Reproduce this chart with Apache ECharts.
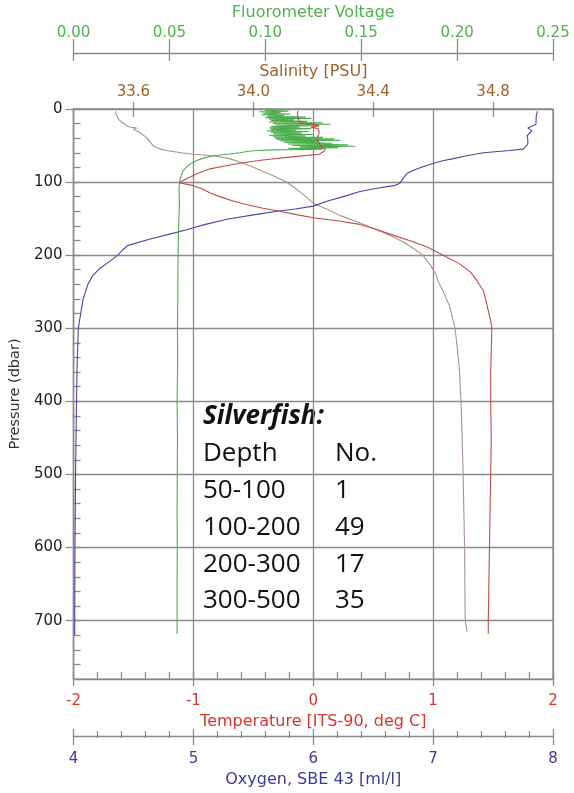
<!DOCTYPE html>
<html><head><meta charset="utf-8">
<script src="https://cdn.jsdelivr.net/npm/echarts@6/dist/echarts.min.js"></script>
<style>html,body{margin:0;padding:0;background:#fff}#c{width:574px;height:793px}</style>
</head><body><div id="c"></div>
<script>
// ---- Data ----
const tempP = [3,10,17,19,21,23,25,27,32,37,42,46,51,55,58,62,66,70,74,78,82,88,95,101,103,105,110,115,120,126,131,136,140,145,149,153,158,165,173,181,189,200,212,223,236,249,262,276,290,300,330,360,400,450,500,550,600,650,700,718];
const tempV = [-0.13,-0.13,-0.12,-0.10,0.0,0.05,-0.02,0.04,0.05,0.04,0.03,0.05,0.06,0.10,0.09,0.05,-0.2,-0.42,-0.6,-0.74,-0.86,-0.96,-1.05,-1.12,-1.12,-1.0,-0.92,-0.86,-0.78,-0.67,-0.55,-0.42,-0.28,-0.13,0.0,0.2,0.39,0.53,0.67,0.82,0.95,1.08,1.22,1.31,1.37,1.42,1.44,1.46,1.48,1.49,1.485,1.48,1.48,1.485,1.48,1.475,1.47,1.465,1.46,1.46];

const salP = [3,8,14,18,22,25,26,28,32,39,45,51,55,57,60,62,64,68,73,78,84,92,100,110,120,129,138,146,155,165,173,182,191,200,213,227,236,249,270,290,300,325,353,400,450,500,600,700,715];
const salV = [33.54,33.543,33.55,33.56,33.575,33.59,33.61,33.60,33.62,33.643,33.655,33.667,33.69,33.71,33.76,33.80,33.867,33.92,33.957,33.99,34.023,34.07,34.11,34.145,34.175,34.2,34.25,34.29,34.35,34.41,34.455,34.5,34.535,34.565,34.59,34.61,34.617,34.633,34.655,34.667,34.673,34.68,34.687,34.693,34.697,34.70,34.705,34.707,34.713];

const oxyP = [3,10,21,24,26,30,34,37,42,48,52,55,57,60,64,68,71,75,77,82,88,95,102,105,109,113,120,126,133,137,140,145,151,158,165,171,178,187,193,200,210,218,228,240,260,280,300,350,400,500,600,700,720];
const oxyV = [7.87,7.86,7.858,7.82,7.79,7.825,7.80,7.783,7.79,7.79,7.77,7.75,7.64,7.42,7.28,7.17,7.08,6.99,6.975,6.867,6.783,6.75,6.72,6.67,6.52,6.39,6.25,6.12,6.0,5.85,5.7,5.5,5.28,5.1,4.95,4.81,4.64,4.45,4.41,4.37,4.29,4.22,4.16,4.12,4.08,4.06,4.04,4.03,4.025,4.017,4.012,4.01,4.01];

const fluP = [2,3,4,5,6,7,8,9,10,11,12,13,14,15,16,17,18,19,20,21,22,23,24,25,26,27,28,29,30,31,32,33,34,35,36,37,38,39,40,41,42,43,44,45,46,47,48,49,50,51,52,53,54,55,56,57,58,60,62,64,67,71,75,79,85,91,96,102,110,129,160,200,250,300,350,400,450,500,550,600,650,700,718];
const fluV = [0.100,0.112,0.097,0.108,0.099,0.113,0.098,0.110,0.101,0.121,0.100,0.124,0.102,0.115,0.103,0.122,0.102,0.130,0.104,0.134,0.105,0.128,0.103,0.118,0.102,0.124,0.103,0.116,0.101,0.123,0.103,0.119,0.104,0.125,0.102,0.121,0.104,0.130,0.105,0.136,0.106,0.139,0.108,0.128,0.110,0.135,0.112,0.143,0.114,0.147,0.118,0.138,0.112,0.130,0.104,0.096,0.091,0.087,0.080,0.073,0.068,0.064,0.061,0.059,0.057,0.0563,0.0555,0.0552,0.0550,0.0552,0.0548,0.0545,0.0544,0.0542,0.0543,0.0540,0.0542,0.0541,0.0540,0.0541,0.0540,0.0540,0.0540];

// tick labels
const pressureLabels = [0,100,200,300,400,500,600,700];
const pressureMinorTicks = [0,20,40,60,80,100,120,140,160,180,200,220,240,260,280,300,320,340,360,380,400,420,440,460,480,500,520,540,560,580,600,620,640,660,680,700,720,740,760,780];
const salinityTicks = [33.6,34.0,34.4,34.8];

// annotation table
const tableTitle = 'Silverfish:';
const tableHeader = ['Depth','No.'];
const depthRanges = ['50-100','100-200','200-300','300-500'];
const silverfishCounts = ['1','49','17','35'];

// ---- Chart ----
const FONT = 'DejaVu Sans';
const GRAY = '#8a8a8a';
const C_TEMP = '#d8352f', C_OXY = '#3b3b98', C_SAL = '#a0622d', C_FLU = '#4fb24f';
const L_TEMP = '#c24a4a', L_OXY = '#4646a6', L_SAL = '#a8958a', L_FLU = '#4cae4c';

function zip(p, v) { return p.map((d, i) => [v[i], d]); }
const lblStyle = (color, margin) => ({ color, fontFamily: FONT, fontSize: 15, margin });
const nameStyle = color => ({ color, fontFamily: FONT, fontSize: 16 });
const tickStyle = { color: GRAY, width: 1.3 };

const chart = echarts.init(document.getElementById('c'));
const option = {
  animation: false,
  backgroundColor: '#fff',
  grid: { left: 73, right: 21, top: 104, bottom: 107, show: true, borderColor: GRAY, borderWidth: 1.3, containLabel: false },
  xAxis: [
    { // 0 temperature
      type: 'value', position: 'bottom', min: -2, max: 2, interval: 1,
      axisLine: { show: true, onZero: false, lineStyle: tickStyle },
      axisTick: { show: true, inside: true, length: 7, lineStyle: tickStyle },
      minorTick: { show: true, splitNumber: 5, length: 7, lineStyle: tickStyle },
      splitLine: { show: true, lineStyle: { color: GRAY, width: 1.3 } },
      axisLabel: lblStyle(C_TEMP, 15),
      name: 'Temperature [ITS-90, deg C]', nameLocation: 'middle', nameGap: 29, nameTextStyle: nameStyle(C_TEMP)
    },
    { // 1 temperature outward major ticks
      type: 'value', position: 'bottom', min: -2, max: 2, interval: 1,
      axisLine: { show: false, onZero: false }, axisTick: { show: true, length: 7, lineStyle: tickStyle },
      axisLabel: { show: false }, splitLine: { show: false }
    },
    { // 2 oxygen
      type: 'value', position: 'bottom', offset: 57, min: 4, max: 8, interval: 1,
      axisLine: { show: true, onZero: false, lineStyle: tickStyle },
      axisTick: { show: true, inside: true, length: 7, lineStyle: tickStyle },
      minorTick: { show: true, splitNumber: 5, length: 5, lineStyle: tickStyle },
      splitLine: { show: false },
      axisLabel: lblStyle(C_OXY, 16),
      name: 'Oxygen, SBE 43 [ml/l]', nameLocation: 'middle', nameGap: 31, nameTextStyle: nameStyle(C_OXY)
    },
    { // 3 oxygen outward ticks
      type: 'value', position: 'bottom', offset: 57, min: 4, max: 8, interval: 1,
      axisLine: { show: false, onZero: false }, axisTick: { show: true, length: 9, lineStyle: tickStyle },
      minorTick: { show: true, splitNumber: 5, length: 2, lineStyle: tickStyle },
      axisLabel: { show: false }, splitLine: { show: false }
    },
    { // 4 salinity
      type: 'value', position: 'top', min: 33.4, max: 35.0,
      axisLine: { show: false, onZero: false },
      axisTick: { show: true, length: 7, customValues: salinityTicks, lineStyle: tickStyle },
      splitLine: { show: false },
      axisLabel: Object.assign(lblStyle(C_SAL, 9), { customValues: salinityTicks, formatter: v => v.toFixed(1) }),
      name: 'Salinity [PSU]', nameLocation: 'middle', nameGap: 24, nameTextStyle: nameStyle(C_SAL)
    },
    { // 5 salinity inward ticks
      type: 'value', position: 'top', min: 33.4, max: 35.0,
      axisLine: { show: false, onZero: false },
      axisTick: { show: true, inside: true, length: 8, customValues: salinityTicks, lineStyle: tickStyle },
      axisLabel: { show: false }, splitLine: { show: false }
    },
    { // 6 fluorometer
      type: 'value', position: 'top', offset: 56, min: 0, max: 0.25, interval: 0.05,
      axisLine: { show: true, onZero: false, lineStyle: tickStyle },
      axisTick: { show: true, length: 14, lineStyle: tickStyle },
      splitLine: { show: false },
      axisLabel: Object.assign(lblStyle(C_FLU, 12), { formatter: v => v.toFixed(2) }),
      name: 'Fluorometer Voltage', nameLocation: 'middle', nameGap: 27, nameTextStyle: nameStyle(C_FLU)
    },
    { // 7 fluorometer inward ticks
      type: 'value', position: 'top', offset: 56, min: 0, max: 0.25, interval: 0.05,
      axisLine: { show: false, onZero: false },
      axisTick: { show: true, inside: true, length: 8, lineStyle: tickStyle },
      axisLabel: { show: false }, splitLine: { show: false }
    }
  ],
  yAxis: [
    { // 0 pressure: grid lines, outward major ticks, labels
      type: 'value', inverse: true, min: 0, max: 780, interval: 100, position: 'left',
      axisLine: { show: true, onZero: false, lineStyle: tickStyle },
      axisTick: { show: true, length: 8, customValues: pressureLabels, lineStyle: tickStyle },
      splitLine: { show: true, lineStyle: { color: GRAY, width: 1.3 } },
      axisLabel: { customValues: pressureLabels, color: '#222', fontFamily: FONT, fontSize: 15, margin: 11 },
      name: 'Pressure (dbar)', nameLocation: 'middle', nameGap: 49,
      nameTextStyle: { color: '#333', fontFamily: FONT, fontSize: 14.5 }
    },
    { // 1 pressure: inward 20-dbar ticks
      type: 'value', inverse: true, min: 0, max: 780, interval: 100, position: 'left',
      axisLine: { show: false, onZero: false },
      axisTick: { show: true, inside: true, length: 7, customValues: pressureMinorTicks, lineStyle: tickStyle },
      axisLabel: { show: false }, splitLine: { show: false }
    }
  ],
  series: [
    { name: 'Salinity', type: 'line', xAxisIndex: 4, yAxisIndex: 0, data: zip(salP, salV), showSymbol: false, lineStyle: { color: L_SAL, width: 1.1 } },
    { name: 'Oxygen', type: 'line', xAxisIndex: 2, yAxisIndex: 0, data: zip(oxyP, oxyV), showSymbol: false, lineStyle: { color: L_OXY, width: 1.1 } },
    { name: 'Fluorometer', type: 'line', xAxisIndex: 6, yAxisIndex: 0, data: zip(fluP, fluV), showSymbol: false, lineStyle: { color: L_FLU, width: 1.1 } },
    { name: 'Temperature', type: 'line', xAxisIndex: 0, yAxisIndex: 0, data: zip(tempP, tempV), showSymbol: false, lineStyle: { color: L_TEMP, width: 1.1 } }
  ],
  graphic: (function () {
    const g = [];
    const tf = '26px "Open Sans"';
    const col1 = 203, col2 = 335, rowStep = 36.8, base0 = 417;
    g.push({ type: 'text', x: col1, y: base0, style: { text: tableTitle, font: 'italic bold 26px "Open Sans"', fill: '#111', verticalAlign: 'middle' } });
    g.push({ type: 'text', x: col1, y: base0 + rowStep, style: { text: tableHeader[0], font: tf, fill: '#111', verticalAlign: 'middle' } });
    g.push({ type: 'text', x: col2, y: base0 + rowStep, style: { text: tableHeader[1], font: tf, fill: '#111', verticalAlign: 'middle' } });
    depthRanges.forEach((d, i) => {
      g.push({ type: 'text', x: col1, y: base0 + rowStep * (i + 2), style: { text: d, font: tf, fill: '#111', verticalAlign: 'middle' } });
      g.push({ type: 'text', x: col2, y: base0 + rowStep * (i + 2), style: { text: silverfishCounts[i], font: tf, fill: '#111', verticalAlign: 'middle' } });
    });
    return g;
  })()
};
chart.setOption(option);
</script>
</body></html>
